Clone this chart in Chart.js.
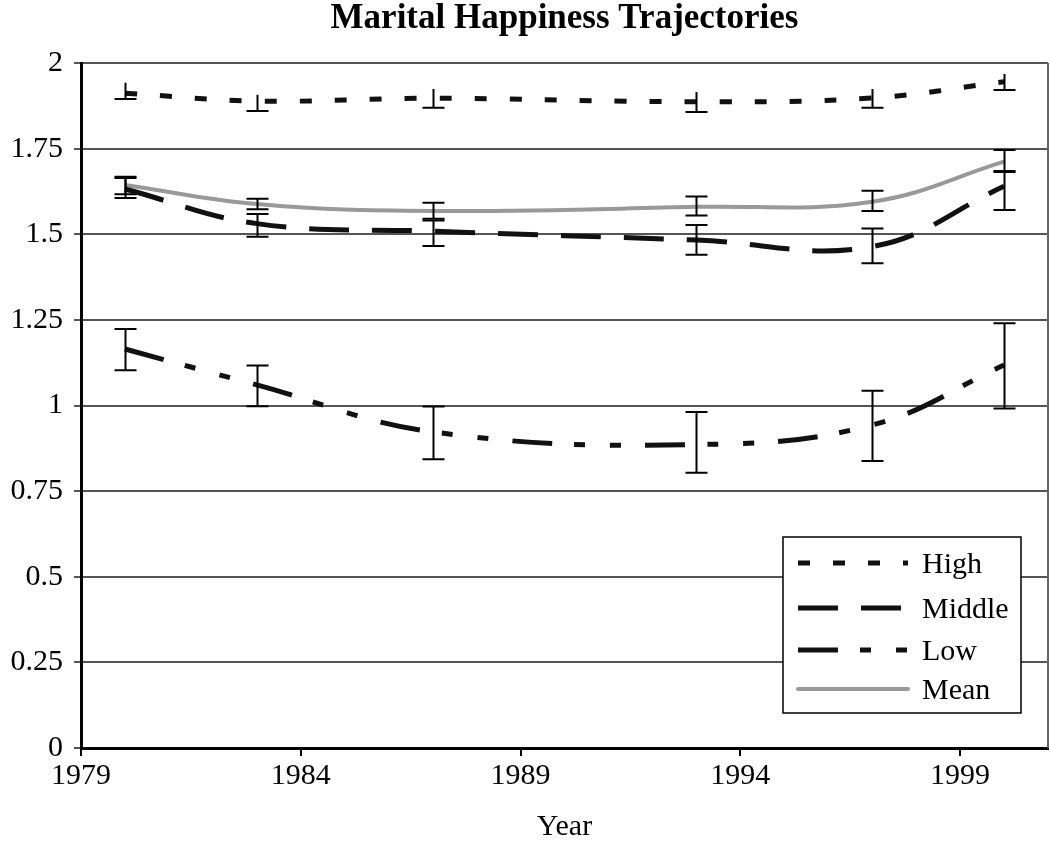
<!DOCTYPE html>
<html>
<head>
<meta charset="utf-8">
<script src="https://cdn.jsdelivr.net/npm/chart.js@4"></script>
<style>
  html, body { margin: 0; padding: 0; background: #fff; }
  #wrap { width: 1050px; height: 842px; }
</style>
</head>
<body>
<div id="wrap"><canvas id="chart" width="1050" height="842"></canvas></div>
<script>
const years = [1980, 1983, 1987, 1993, 1997, 2000];
const xTicks = [1979, 1984, 1989, 1994, 1999];
const yTicks = [0, 0.25, 0.5, 0.75, 1, 1.25, 1.5, 1.75, 2];

const highValues = [1.912, 1.889, 1.897, 1.887, 1.898, 1.945];
const highErrLow = [1.895, 1.860, 1.869, 1.857, 1.869, 1.921];
const highErrHigh = [1.942, 1.907, 1.924, 1.915, 1.924, 1.968];

const middleValues = [1.632, 1.531, 1.509, 1.483, 1.464, 1.640];
const middleErrLow = [1.606, 1.493, 1.466, 1.440, 1.415, 1.571];
const middleErrHigh = [1.664, 1.559, 1.540, 1.527, 1.517, 1.685];

const lowValues = [1.165, 1.060, 0.923, 0.886, 0.943, 1.118];
const lowErrLow = [1.103, 0.998, 0.843, 0.804, 0.838, 0.991];
const lowErrHigh = [1.223, 1.117, 0.997, 0.981, 1.043, 1.240];

const meanValues = [1.644, 1.588, 1.568, 1.580, 1.595, 1.712];
const meanErrLow = [1.617, 1.573, 1.545, 1.555, 1.568, 1.682];
const meanErrHigh = [1.668, 1.604, 1.592, 1.610, 1.627, 1.746];

const FONT = "'Liberation Serif', 'DejaVu Serif', serif";

const highDash = [12, 23];
const middleDash = [40, 23];
const lowDash = [40, 22, 11, 25, 11, 24];

function points(vals) {
  return years.map((y, i) => ({ x: y, y: vals[i] }));
}

// error bars, drawn on top of the lines
const errorBars = {
  id: 'errorBars',
  afterDatasetsDraw(chart) {
    const ctx = chart.ctx;
    const xs = chart.scales.x, ys = chart.scales.y;
    ctx.save();
    ctx.strokeStyle = '#000';
    ctx.lineWidth = 2;
    ctx.setLineDash([]);
    chart.data.datasets.forEach(ds => {
      years.forEach((yr, i) => {
        const px = Math.round(xs.getPixelForValue(yr)) + 0.5;
        const top = ys.getPixelForValue(ds.errHigh[i]);
        const bot = ys.getPixelForValue(ds.errLow[i]);
        ctx.beginPath();
        ctx.moveTo(px, top);
        ctx.lineTo(px, bot);
        if (ds.topCap !== false) {
          ctx.moveTo(px - 11, top);
          ctx.lineTo(px + 11, top);
        }
        ctx.moveTo(px - 11, bot);
        ctx.lineTo(px + 11, bot);
        ctx.stroke();
      });
    });
    ctx.restore();
  }
};

// right frame line + legend box
const frameAndLegend = {
  id: 'frameAndLegend',
  afterDraw(chart) {
    const ctx = chart.ctx;
    const a = chart.chartArea;
    ctx.save();
    ctx.strokeStyle = '#666';
    ctx.lineWidth = 2;
    ctx.beginPath();
    ctx.moveTo(a.right, a.top);
    ctx.lineTo(a.right, a.bottom);
    ctx.stroke();

    const bx = 783, by = 537, bw = 238, bh = 176;
    ctx.fillStyle = '#fff';
    ctx.fillRect(bx, by, bw, bh);
    ctx.strokeStyle = '#000';
    ctx.lineWidth = 1.5;
    ctx.strokeRect(bx, by, bw, bh);

    const rowY = [563, 608, 650, 689];
    ctx.font = '30px ' + FONT;
    ctx.textBaseline = 'middle';
    chart.data.datasets.forEach((ds, i) => {
      ctx.beginPath();
      ctx.strokeStyle = ds.borderColor;
      ctx.lineWidth = ds.borderWidth;
      ctx.setLineDash(ds.borderDash || []);
      ctx.lineCap = ds.label === 'Mean' ? 'round' : 'butt';
      ctx.moveTo(798, rowY[i]);
      ctx.lineTo(908, rowY[i]);
      ctx.stroke();
      ctx.setLineDash([]);
      ctx.fillStyle = '#000';
      ctx.fillText(ds.label, 922, rowY[i] + 2);
    });
    ctx.restore();
  }
};

new Chart(document.getElementById('chart'), {
  type: 'line',
  data: {
    datasets: [
      { label: 'High', data: points(highValues), errLow: highErrLow, errHigh: highErrHigh, topCap: false,
        borderColor: '#111', borderWidth: 5, borderDash: highDash },
      { label: 'Middle', data: points(middleValues), errLow: middleErrLow, errHigh: middleErrHigh,
        borderColor: '#111', borderWidth: 5, borderDash: middleDash },
      { label: 'Low', data: points(lowValues), errLow: lowErrLow, errHigh: lowErrHigh,
        borderColor: '#111', borderWidth: 5, borderDash: lowDash },
      { label: 'Mean', data: points(meanValues), errLow: meanErrLow, errHigh: meanErrHigh,
        borderColor: '#999', borderWidth: 4 }
    ]
  },
  options: {
    responsive: false,
    animation: false,
    layout: { padding: { left: 0, right: 2, top: 0, bottom: 0 } },
    elements: {
      point: { radius: 0 },
      line: { tension: 0.4, fill: false }
    },
    scales: {
      x: {
        type: 'linear',
        min: 1979,
        max: 2001,
        afterBuildTicks: s => { s.ticks = xTicks.map(v => ({ value: v })); },
        afterFit: s => { s.height = 94; },
        grid: { drawOnChartArea: false, drawTicks: true, tickLength: 8, color: '#000', lineWidth: 2 },
        border: { color: '#000', width: 3 },
        ticks: { color: '#000', font: { family: FONT, size: 30 }, padding: 2, maxRotation: 0, callback: v => String(v) },
        title: { display: true, text: 'Year', color: '#000', font: { family: FONT, size: 30, lineHeight: 1 }, padding: { top: 0, bottom: 0 } }
      },
      y: {
        min: 0,
        max: 2,
        afterBuildTicks: s => { s.ticks = yTicks.map(v => ({ value: v })); },
        afterFit: s => { s.width = 81; },
        grid: { color: '#555', lineWidth: 2, drawTicks: true, tickLength: 7 },
        border: { color: '#000', width: 3 },
        ticks: { color: '#000', font: { family: FONT, size: 30 }, padding: 11, callback: v => String(v) }
      }
    },
    plugins: {
      legend: { display: false },
      tooltip: { enabled: false },
      title: {
        display: true,
        fullSize: false,
        text: 'Marital Happiness Trajectories',
        color: '#000',
        font: { family: FONT, size: 35, weight: 'bold', lineHeight: 1 },
        padding: { top: 1, bottom: 27 }
      }
    }
  },
  plugins: [errorBars, frameAndLegend]
});
</script>
</body>
</html>
